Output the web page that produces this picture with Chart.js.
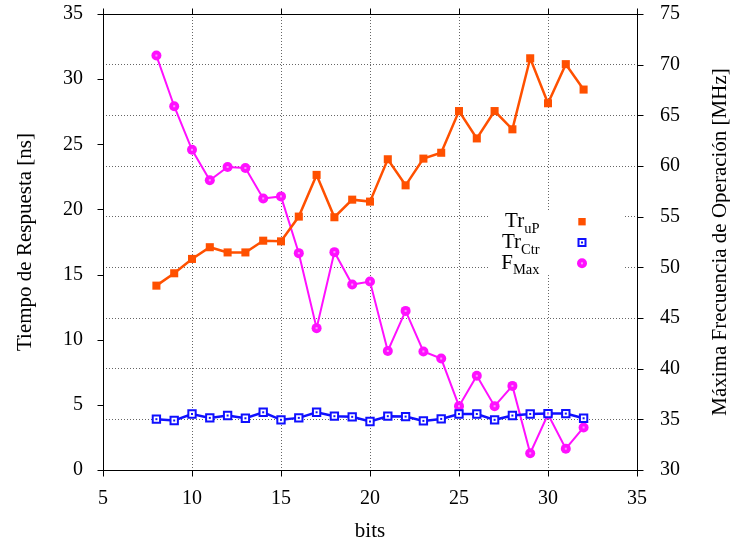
<!DOCTYPE html>
<html>
<head>
<meta charset="utf-8">
<script src="https://cdn.jsdelivr.net/npm/chart.js@4/dist/chart.umd.min.js"></script>
<style>
html, body { margin: 0; padding: 0; background: #fff; }
</style>
</head>
<body>
<canvas id="chart" width="730" height="544"></canvas>
<script>
// Data
const bits = [8, 9, 10, 11, 12, 13, 14, 15, 16, 17, 18, 19, 20, 21, 22, 23, 24, 25, 26, 27, 28, 29, 30, 31, 32];
const trUP = [14.15, 15.1, 16.2, 17.1, 16.7, 16.7, 17.6, 17.55, 19.45, 22.65, 19.4, 20.75, 20.6, 23.85, 21.85, 23.9, 24.35, 27.55, 25.45, 27.55, 26.15, 31.6, 28.15, 31.15, 29.2];
const trCtr = [3.9, 3.8, 4.3, 4.0, 4.18, 3.97, 4.43, 3.85, 4.0, 4.43, 4.13, 4.08, 3.72, 4.13, 4.1, 3.77, 3.92, 4.3, 4.3, 3.85, 4.18, 4.3, 4.33, 4.33, 3.97];
const fMax = [70.9, 65.9, 61.6, 58.6, 59.9, 59.8, 56.8, 57.0, 51.4, 44.0, 51.5, 48.3, 48.6, 41.75, 45.7, 41.7, 41.0, 36.3, 39.3, 36.3, 38.3, 31.65, 35.5, 32.1, 34.2];

// Legend entries: main text + subscript
const legendItems = [
    { main: "Tr", sub: "uP" },
    { main: "Tr", sub: "Ctr" },
    { main: "F", sub: "Max" }
];
const rightTitle = "Máxima Frecuencia de Operación [MHz]";

// Colors
const COLOR_UP = "#ff5000";
const COLOR_CTR = "#1010ff";
const COLOR_FMAX = "#ff10ff";
const FONT = '"Liberation Serif", "Times New Roman", serif';

function toPoints(values) {
    return bits.map((b, i) => ({ x: b, y: values[i] }));
}

function drawMarker(ctx, kind, x, y) {
    ctx.save();
    if (kind === 0) {
        ctx.fillStyle = COLOR_UP;
        ctx.fillRect(x - 3.7, y - 3.7, 7.4, 7.4);
    } else if (kind === 1) {
        ctx.strokeStyle = COLOR_CTR;
        ctx.lineWidth = 2;
        ctx.fillStyle = "#fff";
        ctx.fillRect(x - 3.5, y - 3.5, 7, 7);
        ctx.strokeRect(x - 3.5, y - 3.5, 7, 7);
        ctx.fillStyle = COLOR_CTR;
        ctx.fillRect(x - 1, y - 1, 2, 2);
    } else {
        ctx.fillStyle = COLOR_FMAX;
        ctx.beginPath();
        ctx.arc(x, y, 5, 0, Math.PI * 2);
        ctx.fill();
        ctx.fillStyle = "#ff90ff";
        ctx.fillRect(x - 1, y - 1, 2, 2);
    }
    ctx.restore();
}

// Frame, outward ticks, legend with subscripts, right title
const gnuplotLook = {
    id: "gnuplotLook",
    beforeDatasetsDraw(chart) {
        const ctx = chart.ctx;
        const a = chart.chartArea;
        // white legend box covering the grid
        ctx.save();
        ctx.fillStyle = "#fff";
        ctx.fillRect(a.right - 147, a.top + 196, 134, 64);
        ctx.restore();
    },
    afterDatasetsDraw(chart) {
        const ctx = chart.ctx;
        // center dots on markers
        chart.data.datasets.forEach((ds, i) => {
            if (i === 0) return;
            chart.getDatasetMeta(i).data.forEach(p => {
                ctx.save();
                ctx.fillStyle = i === 1 ? COLOR_CTR : "#ff90ff";
                ctx.fillRect(p.x - 1, p.y - 1, 2, 2);
                ctx.restore();
            });
        });
    },
    afterDraw(chart) {
        const ctx = chart.ctx;
        const a = chart.chartArea;
        const xs = chart.scales.x, ys = chart.scales.y, y2 = chart.scales.y2;
        const tl = 6;
        const L = Math.round(a.left) + 0.5, R = Math.round(a.right) + 0.5;
        const T = Math.round(a.top) + 0.5, B = Math.round(a.bottom) + 0.5;
        ctx.save();
        ctx.strokeStyle = "#000";
        ctx.lineWidth = 1;
        ctx.beginPath();
        xs.ticks.forEach(t => {
            const px = Math.round(xs.getPixelForValue(t.value)) + 0.5;
            ctx.moveTo(px, B); ctx.lineTo(px, B + tl);
            ctx.moveTo(px, T); ctx.lineTo(px, T - tl);
        });
        ys.ticks.forEach(t => {
            const py = Math.round(ys.getPixelForValue(t.value)) + 0.5;
            ctx.moveTo(L, py); ctx.lineTo(L - tl, py);
        });
        y2.ticks.forEach(t => {
            const py = Math.round(y2.getPixelForValue(t.value)) + 0.5;
            ctx.moveTo(R, py); ctx.lineTo(R + tl, py);
        });
        ctx.stroke();
        ctx.strokeRect(L, T, R - L, B - T);

        // legend
        const textRight = a.right - 97.5;
        const symX = a.right - 55;
        legendItems.forEach((it, i) => {
            const cy = a.top + 207.7 + i * 20.8;
            ctx.font = "14.5px " + FONT;
            const wSub = ctx.measureText(it.sub).width;
            ctx.font = "21px " + FONT;
            const wMain = ctx.measureText(it.main).width;
            ctx.fillStyle = "#000";
            ctx.textBaseline = "alphabetic";
            ctx.textAlign = "left";
            ctx.fillText(it.main, textRight - wSub - wMain, cy + 5.5);
            ctx.font = "14.5px " + FONT;
            ctx.fillText(it.sub, textRight - wSub, cy + 11);
            drawMarker(ctx, i, symX, cy);
        });

        // right axis title, reading bottom to top
        ctx.translate(720, (a.top + a.bottom) / 2);
        ctx.rotate(-Math.PI / 2);
        ctx.font = "21px " + FONT;
        ctx.textAlign = "center";
        ctx.textBaseline = "middle";
        ctx.fillStyle = "#000";
        ctx.fillText(rightTitle, 0, 0);
        ctx.restore();
    }
};

function noPadding(scale) {
    scale.paddingTop = 0;
    scale.paddingBottom = 0;
    scale.paddingLeft = 0;
    scale.paddingRight = 0;
}

const gridStyle = { color: "#666", lineWidth: 1, drawTicks: false };
const tickFont = { family: FONT, size: 20 };
const titleFont = { family: FONT, size: 21 };

new Chart("chart", {
    type: "line",
    data: {
        datasets: [{
            label: "TrUP",
            data: toPoints(trUP),
            yAxisID: "y",
            borderColor: COLOR_UP,
            backgroundColor: COLOR_UP,
            borderWidth: 2.5,
            pointStyle: "rect",
            pointRadius: 5.7,
            pointBorderWidth: 0
        },
        {
            label: "TrCtr",
            data: toPoints(trCtr),
            yAxisID: "y",
            borderColor: COLOR_CTR,
            backgroundColor: "#fff",
            borderWidth: 2.5,
            pointStyle: "rect",
            pointRadius: 5.2,
            pointBorderWidth: 2
        },
        {
            label: "FMax",
            data: toPoints(fMax),
            yAxisID: "y2",
            borderColor: COLOR_FMAX,
            backgroundColor: COLOR_FMAX,
            borderWidth: 2,
            pointStyle: "circle",
            pointRadius: 5,
            pointBorderWidth: 0
        }]
    },
    options: {
        responsive: false,
        animation: false,
        devicePixelRatio: 1,
        layout: { padding: { top: 14 } },
        plugins: {
            legend: { display: false },
            tooltip: { enabled: false }
        },
        scales: {
            x: {
                type: "linear",
                min: 5,
                max: 35,
                ticks: { stepSize: 5, color: "#000", font: tickFont, padding: 17, maxRotation: 0 },
                grid: gridStyle,
                border: { display: false, dash: [1, 2] },
                title: { display: true, text: "bits", color: "#000", font: titleFont, padding: { bottom: 0 } },
                afterFit(scale) { scale.height = 74; noPadding(scale); }
            },
            y: {
                position: "left",
                min: 0,
                max: 35,
                ticks: { stepSize: 5, color: "#000", font: tickFont, padding: 20 },
                grid: { display: false, drawTicks: false },
                border: { display: false },
                title: { display: true, text: "Tiempo de Respuesta [ns]", color: "#000", font: titleFont, padding: { top: 13 } },
                afterFit(scale) { scale.width = 103; noPadding(scale); }
            },
            y2: {
                position: "right",
                min: 30,
                max: 75,
                ticks: { stepSize: 5, color: "#000", font: tickFont, padding: 23 },
                grid: gridStyle,
                border: { display: false, dash: [1, 2] },
                afterFit(scale) { scale.width = 93; noPadding(scale); }
            }
        }
    },
    plugins: [gnuplotLook]
});
</script>
</body>
</html>
